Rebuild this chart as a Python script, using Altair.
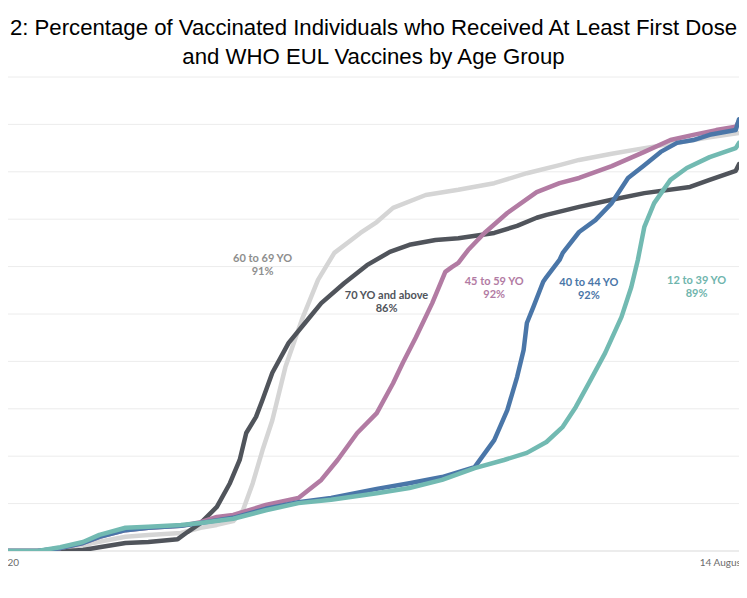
import altair as alt
import pandas as pd

# ---------------- data ----------------
groups = ["60 to 69 YO", "70 YO and above", "45 to 59 YO", "40 to 44 YO", "12 to 39 YO"]
line_colors = ["#d5d5d5", "#50545b", "#b27ba3", "#4a76a8", "#72bab2"]
label_colors = ["#8e8e8e", "#50545b", "#b27ba3", "#4a76a8", "#6fb5ad"]

days_60_69 = [0, 20, 28, 38, 45, 55, 61, 66, 71, 74, 77, 80, 83, 87, 92, 97, 102, 110, 115, 120,
              130, 140, 151, 161, 171, 177, 187, 197, 207, 217, 226]
pct_60_69 = [0, 0, 1.7, 3.0, 3.4, 3.8, 4.9, 5.5, 6.3, 8.6, 14.3, 21.3, 27.6, 38.8, 48.7, 57.2, 62.9, 67.1, 69.4, 72.4,
             75.1, 76.2, 77.6, 79.7, 81.4, 82.5, 83.8, 85.0, 86.1, 87.3, 88.2]

days_70 = [0, 20, 25, 30, 38, 45, 54, 57, 61, 66, 70, 73, 75, 78, 80, 83, 88, 93, 98, 105,
           112, 119, 125, 133, 140, 151, 158, 164, 167, 177, 187, 197, 211, 217, 225, 226]
pct_70 = [0, 0, 0.2, 0.8, 1.7, 1.9, 2.5, 4.0, 5.9, 9.3, 14.3, 19.2, 24.9, 28.3, 31.9, 37.6, 43.9, 48.1, 52.3, 56.5,
          60.3, 63.1, 64.6, 65.6, 66.0, 67.1, 68.6, 70.3, 70.9, 72.6, 74.1, 75.5, 76.8, 78.3, 80.2, 81.6]

days_45_59 = [0, 11, 18, 25, 30, 38, 45, 55, 61, 66, 71, 81, 91, 98, 103, 109, 115, 120, 123, 127,
              132, 136, 138, 140, 143, 148, 155, 164, 171, 177, 187, 197, 205, 212, 219, 225, 226]
pct_45_59 = [0, 0, 0.6, 1.7, 3.0, 4.4, 4.9, 5.3, 6.1, 7.2, 7.6, 9.7, 11.2, 15.0, 19.2, 24.9, 29.1, 35.4, 39.7, 45.1,
             52.3, 58.9, 59.9, 60.8, 63.5, 67.1, 71.3, 75.7, 77.6, 78.7, 81.2, 84.2, 86.7, 87.8, 88.8, 89.5, 90.7]

days_40_44 = [0, 11, 18, 25, 30, 38, 45, 55, 61, 71, 81, 91, 101, 115, 125, 135, 145, 151, 155, 158,
              160, 161, 163, 166, 167, 171, 172, 177, 182, 187, 192, 197, 202, 207, 212, 217, 225, 226]
pct_40_44 = [0, 0, 0.6, 1.7, 3.0, 4.4, 4.9, 5.3, 5.9, 7.0, 8.9, 10.3, 11.2, 13.1, 14.3, 15.6, 17.7, 23.4, 29.7, 36.7,
             42.4, 48.1, 51.5, 56.8, 57.8, 61.4, 62.9, 67.3, 69.8, 73.4, 78.7, 81.4, 84.2, 86.1, 86.7, 87.8, 88.8, 91.1]

days_12_39 = [0, 11, 18, 25, 30, 38, 45, 55, 61, 71, 81, 91, 101, 115, 125, 135, 145, 154, 161, 167,
              172, 176, 180, 185, 190, 193, 195, 197, 200, 205, 210, 217, 225, 226]
pct_12_39 = [0, 0, 0.8, 1.9, 3.4, 4.9, 5.1, 5.5, 5.9, 6.8, 8.6, 10.1, 10.8, 12.2, 13.3, 15.0, 17.5, 19.2, 20.7, 23.0,
             26.2, 30.4, 35.4, 41.8, 49.4, 55.7, 61.4, 68.4, 73.4, 78.3, 80.8, 83.1, 85.0, 86.1]

series_days = [days_60_69, days_70, days_45_59, days_40_44, days_12_39]
series_pct = [pct_60_69, pct_70, pct_45_59, pct_40_44, pct_12_39]

# annotation labels (position in data units) and final coverage text
label_days = [80, 118, 151, 180, 213]
label_pct = [61.6, 53.8, 56.8, 56.5, 57.0]
label_final = ["91%", "86%", "92%", "92%", "89%"]

grid_values = [10, 20, 30, 40, 50, 60, 70, 80, 90, 100]
baseline_value = [0]

axis_days = [2, 226]
axis_text = ["31 December 2020", "14 August 2021"]

title_lines = ["2: Percentage of Vaccinated Individuals who Received At Least First Dose",
               "and WHO EUL Vaccines by Age Group"]

# ---------------- chart ----------------
W, H = 731, 474
x_scale = alt.Scale(domain=[2, 226], nice=False, zero=False)
y_scale = alt.Scale(domain=[0, 100], nice=False)
X = lambda: alt.X("day:Q", scale=x_scale, axis=None)
Y = lambda: alt.Y("pct:Q", scale=y_scale, axis=None)

grid = alt.Chart(pd.DataFrame({"pct": grid_values})).mark_rule(
    color="#ececec", strokeWidth=1).encode(y=Y())
base = alt.Chart(pd.DataFrame({"pct": baseline_value})).mark_rule(
    color="#d9d9d9", strokeWidth=1).encode(y=Y())

layers = [grid, base]
for g, c, d, p in zip(groups, line_colors, series_days, series_pct):
    df = pd.DataFrame({"day": d, "pct": p, "group": g})
    layers.append(
        alt.Chart(df).mark_line(color=c, strokeWidth=4.5, strokeJoin="round",
                                strokeCap="round", clip=True).encode(x=X(), y=Y())
    )

lab_df = pd.DataFrame({"day": label_days, "pct": label_pct, "name": groups,
                       "final": label_final, "group": groups})
color_enc = alt.Color("group:N", scale=alt.Scale(domain=groups, range=label_colors), legend=None)
names = alt.Chart(lab_df).mark_text(font="Lato", fontSize=11, fontWeight="bold",
                                    baseline="middle", align="center").encode(
    x=X(), y=Y(), text="name:N", color=color_enc)
finals = alt.Chart(lab_df).mark_text(font="Lato", fontSize=11, fontWeight="bold",
                                     baseline="middle", align="center", dy=13).encode(
    x=X(), y=Y(), text="final:N", color=color_enc)
layers += [names, finals]

ax_df = pd.DataFrame({"day": axis_days, "label": axis_text})
left_lab = alt.Chart(ax_df.iloc[[0]]).mark_text(font="Lato", fontSize=10, color="#6b6b6b",
                                                align="right", baseline="middle", dx=11).encode(
    x=X(), y=alt.value(H + 12), text="label:N")
right_lab = alt.Chart(ax_df.iloc[[1]]).mark_text(font="Lato", fontSize=10, color="#6b6b6b",
                                                 align="center", baseline="middle", dx=-4).encode(
    x=X(), y=alt.value(H + 12), text="label:N")
layers += [left_lab, right_lab]

chart = alt.layer(*layers).properties(
    width=W, height=H,
    title=alt.TitleParams(text=title_lines, font="Liberation Sans", fontSize=22.2,
                          fontWeight="normal", color="#000000", lineHeight=29,
                          offset=9, dy=24, baseline="bottom", anchor="middle"),
    autosize=alt.AutoSizeParams(type="none"),
    padding={"left": 0, "top": 69, "right": 0, "bottom": 22},
).configure_view(
    stroke="transparent", strokeWidth=0, strokeOpacity=0, fill="white"
).configure(
    background="white",
    style={"cell": {"stroke": "transparent", "strokeWidth": 0, "strokeOpacity": 0}},
)

chart.save("out.html", embed_options={"renderer": "svg", "actions": False})
